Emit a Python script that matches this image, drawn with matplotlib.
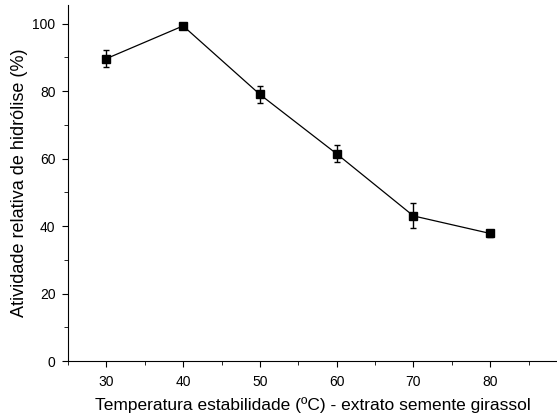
import matplotlib
matplotlib.use('Agg')
import matplotlib.pyplot as plt
from matplotlib.ticker import MultipleLocator

temps = [30, 40, 50, 60, 70, 80]
activity = [89.6, 99.3, 79.0, 61.4, 43.0, 37.8]
errors = [2.5, 0.9, 2.4, 2.5, 3.7, 1.0]

plt.rcParams['font.family'] = ['Liberation Sans', 'DejaVu Sans']

fig = plt.figure(figsize=(5.57, 4.15), dpi=100)
ax = fig.add_axes([0.122, 0.13, 0.878, 0.858])

ax.errorbar(temps, activity, yerr=errors, color='black', marker='s',
            markersize=6, linewidth=0.9, elinewidth=1, capsize=2.5, capthick=1)

ax.set_xlim(25, 88.7)
ax.set_ylim(0, 105.5)
ax.xaxis.set_major_locator(MultipleLocator(10))
ax.xaxis.set_minor_locator(MultipleLocator(5))
ax.yaxis.set_major_locator(MultipleLocator(20))
ax.yaxis.set_minor_locator(MultipleLocator(10))
ax.set_xticks(temps)

for side in ['top', 'right']:
    ax.spines[side].set_visible(False)

ax.tick_params(which='major', direction='out', length=4, labelsize=10)
ax.tick_params(axis='x', which='major', pad=6)
ax.tick_params(axis='y', which='major', pad=5)
ax.tick_params(which='minor', direction='out', length=3)

ax.set_xlabel('Temperatura estabilidade (ºC) - extrato semente girassol',
              fontsize=12.5, labelpad=6)
ax.set_ylabel('Atividade relativa de hidrólise (%)', fontsize=13, labelpad=3)

fig.savefig('out.png', dpi=100)
